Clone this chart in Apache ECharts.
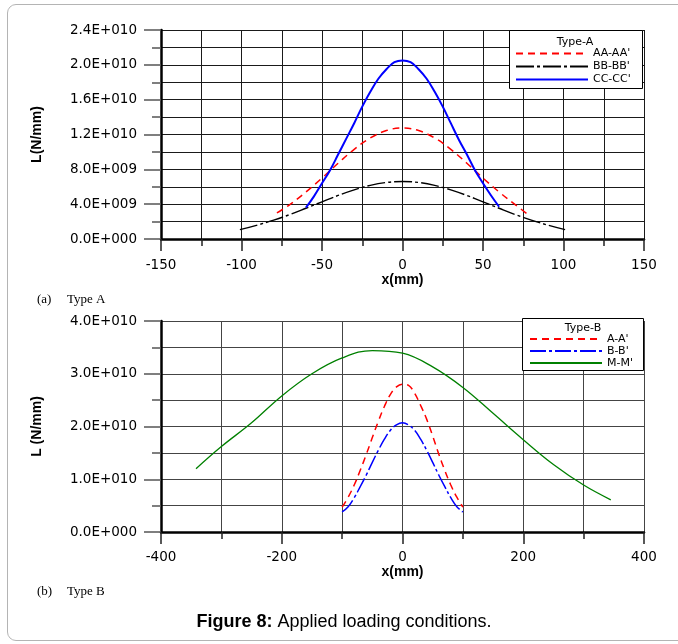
<!DOCTYPE html>
<html>
<head>
<meta charset="utf-8">
<script src="https://cdn.jsdelivr.net/npm/echarts@6.0.0/dist/echarts.min.js"></script>
<style>
  html, body { margin: 0; padding: 0; background: #fff; }
  #chart { width: 678px; height: 644px; }
  #frame { position: absolute; left: 7px; top: 4px; width: 700px; height: 635px;
           border: 1px solid #b4b4b4; border-radius: 9px; pointer-events: none; }
</style>
</head>
<body>
<div id="chart"></div>
<div id="frame"></div>
<script>
// (a) Type A  -- x in mm, L in N/mm
var aaX = [-78, -70, -60, -50, -40, -30, -20, -10, 0, 10, 20, 30, 40, 50, 60, 70, 78]
var aaY = [3.0e9, 3.95e9, 5.4e9, 7.0e9, 8.7e9, 10.3e9, 11.6e9, 12.45e9, 12.75e9, 12.45e9, 11.6e9, 10.3e9, 8.7e9, 7.0e9, 5.4e9, 3.95e9, 2.8e9]
var bbX = [-101, -90, -80, -70, -60, -50, -40, -30, -20, -10, 0, 10, 20, 30, 40, 50, 60, 70, 80, 90, 101]
var bbY = [1.07e9, 1.61e9, 2.17e9, 2.81e9, 3.53e9, 4.27e9, 5.0e9, 5.64e9, 6.16e9, 6.49e9, 6.6e9, 6.49e9, 6.16e9, 5.64e9, 5.0e9, 4.27e9, 3.53e9, 2.81e9, 2.17e9, 1.61e9, 1.07e9]
var ccX = [-60, -55, -50, -45, -40, -35, -30, -25, -20, -15, -10, -5, 0, 5, 10, 15, 20, 25, 30, 35, 40, 45, 50, 55, 60]
var ccY = [3.6e9, 4.9e9, 6.4e9, 7.9e9, 9.7e9, 11.5e9, 13.3e9, 15.2e9, 16.9e9, 18.4e9, 19.5e9, 20.3e9, 20.5e9, 20.3e9, 19.5e9, 18.4e9, 16.9e9, 15.2e9, 13.3e9, 11.4e9, 9.7e9, 7.9e9, 6.4e9, 5.0e9, 3.7e9]

// (b) Type B
var aX = [-100, -90, -80, -70, -60, -50, -40, -30, -20, -10, 0, 10, 20, 30, 40, 50, 60, 70, 80, 90, 100]
var aY = [0.47e10, 0.66e10, 0.89e10, 1.17e10, 1.47e10, 1.79e10, 2.10e10, 2.38e10, 2.61e10, 2.75e10, 2.80e10, 2.78e10, 2.63e10, 2.40e10, 2.14e10, 1.82e10, 1.48e10, 1.17e10, 0.89e10, 0.66e10, 0.47e10]
var bX = [-100, -90, -80, -70, -60, -50, -40, -30, -20, -10, 0, 10, 20, 30, 40, 50, 60, 70, 80, 90, 100]
var bY = [0.38e10, 0.48e10, 0.65e10, 0.86e10, 1.08e10, 1.32e10, 1.55e10, 1.76e10, 1.93e10, 2.03e10, 2.07e10, 2.03e10, 1.93e10, 1.76e10, 1.55e10, 1.32e10, 1.08e10, 0.86e10, 0.65e10, 0.48e10, 0.38e10]
var mX = [-342, -300, -250, -200, -150, -100, -50, 0, 50, 100, 150, 200, 250, 300, 345]
var mY = [1.20e10, 1.62e10, 2.07e10, 2.58e10, 3.00e10, 3.30e10, 3.44e10, 3.39e10, 3.13e10, 2.74e10, 2.25e10, 1.75e10, 1.28e10, 0.89e10, 0.61e10]

var namesA = ["AA-AA'", "BB-BB'", "CC-CC'"]
var namesB = ["A-A'", "B-B'", "M-M'"]

function pairs(xs, ys) {
  return xs.map(function (x, i) { return [x, ys[i]] })
}

// 2.4E+010 style labels
function sci(v) {
  if (v === 0) return '0.0E+000'
  var e = Math.floor(Math.log10(Math.abs(v)) + 1e-9)
  var m = v / Math.pow(10, e)
  return m.toFixed(1) + 'E+' + String(e).padStart(3, '0')
}

var FONT = 'DejaVu Sans'

function xAxisCfg(grid, min, max, interval, gridColor, margin, gap) {
  return {
    gridIndex: grid, type: 'value', min: min, max: max, interval: interval,
    name: 'x(mm)', nameLocation: 'middle', nameGap: gap,
    nameTextStyle: { fontFamily: 'Liberation Sans', fontWeight: 'bold', fontSize: 14, color: '#000' },
    axisLine: { show: true, onZero: false, lineStyle: { color: '#000', width: 2.5 } },
    axisTick: { show: true, length: 12, lineStyle: { color: '#222', width: 1.5 } },
    minorTick: { show: true, splitNumber: 2, length: 7, lineStyle: { color: '#222', width: 1.5 } },
    splitLine: { show: true, lineStyle: { color: gridColor, width: 1 } },
    minorSplitLine: { show: true, lineStyle: { color: gridColor, width: 1 } },
    axisLabel: { fontFamily: FONT, fontSize: 13.5, color: '#000', margin: margin }
  }
}

function yAxisCfg(grid, max, interval, name, gridColor) {
  return {
    gridIndex: grid, type: 'value', min: 0, max: max, interval: interval,
    name: name, nameLocation: 'middle', nameGap: 117, nameRotate: 90,
    nameTextStyle: { fontFamily: 'Liberation Sans', fontWeight: 'bold', fontSize: 14, color: '#000' },
    axisLine: { show: true, onZero: false, lineStyle: { color: '#000', width: 2.5 } },
    axisTick: { show: true, length: 17, lineStyle: { color: '#555', width: 1.5 } },
    minorTick: { show: true, splitNumber: 2, length: 9, lineStyle: { color: '#555', width: 1.5 } },
    splitLine: { show: true, lineStyle: { color: gridColor, width: 1 } },
    minorSplitLine: { show: true, lineStyle: { color: gridColor, width: 1 } },
    axisLabel: { fontFamily: FONT, fontSize: 13.5, color: '#000', margin: 24, formatter: sci }
  }
}

function line(name, idx, xs, ys, color, type, width) {
  return {
    name: name, type: 'line', xAxisIndex: idx, yAxisIndex: idx,
    data: pairs(xs, ys), smooth: 0.4, symbol: 'none', animation: false,
    lineStyle: { color: color, type: type, width: width },
    itemStyle: { color: color }
  }
}

function legendCfg(names, left, top, w, lh) {
  return {
    data: names, orient: 'vertical', left: left, top: top, padding: 0,
    itemWidth: w, itemHeight: 10, itemGap: 0, selectedMode: false, z: 6,
    itemStyle: { opacity: 0 },
    textStyle: { fontFamily: FONT, fontSize: 11, color: '#000', lineHeight: lh }
  }
}

var chart = echarts.init(document.getElementById('chart'))
chart.setOption({
  animation: false,
  grid: [
    { left: 161, top: 30, width: 483, height: 209 },
    { left: 161, top: 321, width: 483, height: 211 }
  ],
  xAxis: [
    xAxisCfg(0, -150, 150, 50, '#1a1a1a', 19, 34),
    xAxisCfg(1, -400, 400, 200, '#444', 18, 33)
  ],
  yAxis: [
    yAxisCfg(0, 2.4e10, 4e9, 'L(N/mm)', '#1a1a1a'),
    yAxisCfg(1, 4e10, 1e10, 'L (N/mm)', '#444')
  ],
  legend: [
    legendCfg(namesA, 515, 47, 72, 13),
    legendCfg(namesB, 529, 333, 72, 12)
  ],
  graphic: [
    { type: 'rect', z: 5, shape: { x: 509.5, y: 30.5, width: 133, height: 58 },
      style: { fill: '#fff', stroke: '#000', lineWidth: 1 } },
    { type: 'text', z: 6, x: 575, y: 42,
      style: { text: 'Type-A', font: '11px "DejaVu Sans"', fill: '#000', align: 'center', verticalAlign: 'middle' } },
    { type: 'rect', z: 5, shape: { x: 522.5, y: 318.5, width: 121, height: 52 },
      style: { fill: '#fff', stroke: '#000', lineWidth: 1 } },
    { type: 'text', z: 6, x: 583, y: 328.5,
      style: { text: 'Type-B', font: '11px "DejaVu Sans"', fill: '#000', align: 'center', verticalAlign: 'middle' } },
    { type: 'text', x: 37, y: 300,
      style: { text: '(a)', font: '13px "Liberation Serif"', fill: '#000', verticalAlign: 'middle' } },
    { type: 'text', x: 67, y: 300,
      style: { text: 'Type A', font: '13px "Liberation Serif"', fill: '#000', verticalAlign: 'middle' } },
    { type: 'text', x: 37, y: 592,
      style: { text: '(b)', font: '13px "Liberation Serif"', fill: '#000', verticalAlign: 'middle' } },
    { type: 'text', x: 67, y: 592,
      style: { text: 'Type B', font: '13px "Liberation Serif"', fill: '#000', verticalAlign: 'middle' } },
    { type: 'text', x: 344, y: 622.5,
      style: {
        text: '{b|Figure 8:} Applied loading conditions.',
        font: '18px "Liberation Sans"', fill: '#000', align: 'center', verticalAlign: 'middle',
        rich: { b: { fontWeight: 'bold', fontSize: 18, fontFamily: 'Liberation Sans', fill: '#000' } }
      } }
  ],
  series: [
    line(namesA[0], 0, aaX, aaY, '#ff0000', [7, 5], 1.5),
    line(namesA[1], 0, bbX, bbY, '#000000', [18, 3, 3, 3], 1.4),
    line(namesA[2], 0, ccX, ccY, '#0000ff', 'solid', 2),
    line(namesB[0], 1, aX, aY, '#ff0000', [7, 5], 1.5),
    line(namesB[1], 1, bX, bY, '#0000ff', [16, 3, 3, 3], 1.5),
    line(namesB[2], 1, mX, mY, '#008000', 'solid', 1.3)
  ]
})
</script>
</body>
</html>
